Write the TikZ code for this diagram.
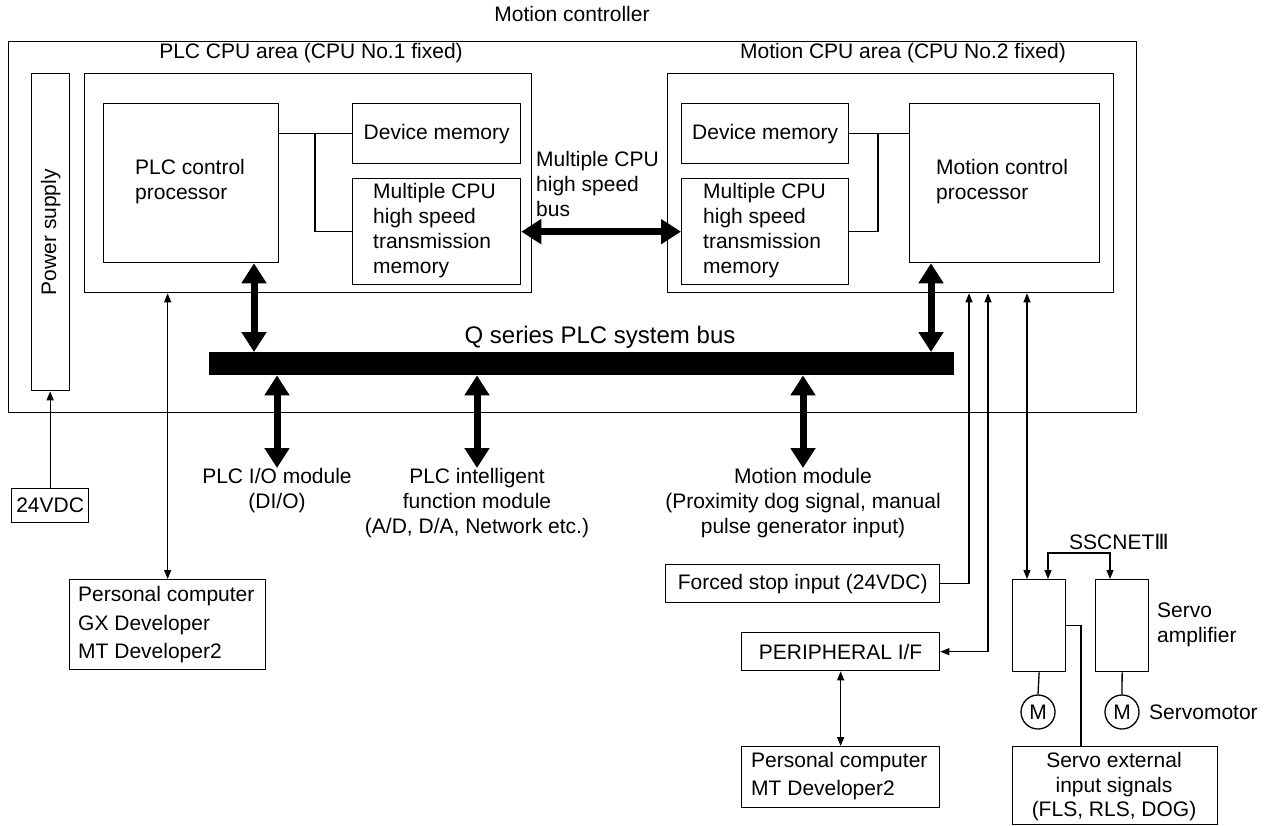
\documentclass[tikz,border=0pt]{standalone}
\usepackage{fontspec}
\setmainfont{Liberation Sans}
\newfontfamily\dejavu{DejaVu Sans}
\usetikzlibrary{arrows.meta}
\begin{document}
\begin{tikzpicture}[x=1pt,y=-1pt,
  font=\fontsize{21}{25}\selectfont,
  box/.style={draw, line width=1.3pt, inner sep=0pt},
  txt/.style={inner sep=0pt},
  thinln/.style={line width=1.3pt},
  thinarr/.style={line width=1.3pt, -{Triangle[length=9pt,width=7pt]}},
  thinboth/.style={line width=1.3pt, {Triangle[length=9pt,width=7pt]}-{Triangle[length=9pt,width=7pt]}},
  bigboth/.style={line width=7pt, {Triangle[length=20pt,width=24pt]}-{Triangle[length=20pt,width=24pt]}}]
\useasboundingbox (0,0) rectangle (1269,825);
\fill[white] (0,0) rectangle (1269,825);
% boxes: corners
\newcommand{\bx}[5]{\node[box, anchor=north west, minimum width=#4-#2, minimum height=#5-#3] (#1) at (#2,#3) {};}
\bx{outer}{8}{41}{1136}{412}
\bx{ps}{31}{73}{69}{390}
\bx{plcA}{84}{73}{531}{292}
\bx{plcP}{103}{103}{278}{262}
\bx{devL}{352}{103}{520}{163}
\bx{memL}{352}{178}{520}{284}
\bx{motA}{667}{73}{1113}{292}
\bx{devR}{681}{103}{848}{163}
\bx{memR}{681}{178}{848}{284}
\bx{motP}{909}{103}{1099}{262}
\node[fill=black, inner sep=0pt, anchor=north west, minimum width=745pt, minimum height=23pt] (bus) at (209,352) {};
\bx{dc}{11}{488}{88}{522}
\bx{pcL}{69}{579}{265}{669}
\bx{fs}{665}{564}{939}{602}
\bx{pif}{741}{632}{939}{670}
\bx{pcR}{741}{746}{939}{807}
\bx{ampA}{1012}{579}{1065}{671}
\bx{ampB}{1095}{579}{1148}{671}
\bx{ext}{1012}{746}{1217}{824}
\node[box, circle, minimum size=34pt] (mA) at (1038,712) {M};
\node[box, circle, minimum size=34pt] (mB) at (1122,712) {M};
% texts
\node[txt] (tmc) at (572,14) {Motion controller};
\node[txt] (tplcA) at (311,53) {PLC CPU area (CPU No.1 fixed)};
\node[txt] (tmotA) at (903,53) {Motion CPU area (CPU No.2 fixed)};
\node[txt, rotate=90] (tps) at (ps.center) {Power supply};
\node[txt, anchor=west, align=left] (tplcP) at (135,182) {PLC control\\processor};
\node[txt] (tdevL) at (devL.center) {Device memory};
\node[txt, anchor=west, align=left] (tmemL) at (373,231) {Multiple CPU\\high speed\\transmission\\memory};
\node[txt, anchor=west, align=left] (tbusl) at (536,184) {Multiple CPU\\high speed\\bus};
\node[txt, font=\fontsize{24}{28}\selectfont] (tqbus) at (600,337) {Q series PLC system bus};
\node[txt] (tdevR) at (devR.center) {Device memory};
\node[txt, anchor=west, align=left] (tmemR) at (703,231) {Multiple CPU\\high speed\\transmission\\memory};
\node[txt, anchor=west, align=left] (tmotP) at (936,182) {Motion control\\processor};
\node[txt, anchor=north, align=center] (tio) at (277,468) {PLC I/O module\\(DI/O)};
\node[txt, anchor=north, align=center] (tint) at (477,468) {PLC intelligent\\function module\\(A/D, D/A, Network etc.)};
\node[txt, anchor=north, align=center] (tmm) at (803,468) {Motion module\\(Proximity dog signal, manual\\pulse generator input)};
\node[txt] (tdc) at (dc.center) {24VDC};
\node[txt, anchor=west, align=left, font=\fontsize{21}{28.5}\selectfont] (tpcL) at (78,625) {Personal computer\\GX Developer\\MT Developer2};
\node[txt] (tfs) at (fs.center) {Forced stop input (24VDC)};
\node[txt] (tpif) at (pif.center) {PERIPHERAL I/F};
\node[txt, anchor=west, align=left, font=\fontsize{21}{28}\selectfont] (tpcR) at (751,776) {Personal computer\\MT Developer2};
\node[txt, anchor=west] (tssc) at (1069,542) {SSCNET{\dejavu Ⅲ}};
\node[txt, anchor=west, align=left] (tamp) at (1157,625) {Servo\\amplifier};
\node[txt, anchor=west] (tsm) at (1149,712) {Servomotor};
\node[txt, align=center, font=\fontsize{21}{24.5}\selectfont] (text) at (1114,787) {Servo external\\input signals\\(FLS, RLS, DOG)};
% internal connectors
\coordinate (jL) at (315,133);
\coordinate (jR) at (878,133);
\draw[thinln] (plcP.east |- devL.west) -- (devL.west);
\draw[thinln] (jL) |- (memL.west);
\draw[thinln] (devR.east) -- (motP.west |- devR.east);
\draw[thinln] (jR) |- (memR.east);
% thick arrows
\draw[bigboth] (memL.east) -- (memR.west);
\coordinate (xa) at (254,0);
\coordinate (xb) at (931,0);
\coordinate (xc) at (277,0);
\coordinate (xd) at (477,0);
\coordinate (xe) at (803,0);
\draw[bigboth] (plcP.south -| xa) -- (bus.north -| xa);
\draw[bigboth] (motP.south -| xb) -- (bus.north -| xb);
\draw[bigboth] (bus.south -| xc) -- (tio.north);
\draw[bigboth] (bus.south -| xd) -- (tint.north);
\draw[bigboth] (bus.south -| xe) -- (tmm.north);
% thin connectors
\draw[thinarr] (dc.north) -- (ps.south -| dc.north);
\draw[thinboth] (plcA.south -| pcL.north) -- (pcL.north);
\coordinate (xf) at (969,0);
\coordinate (xg) at (988,0);
\coordinate (xh) at (1027,0);
\draw[thinarr] (fs.east) -| (motA.south -| xf);
\draw[thinboth] (pif.east) -| (motA.south -| xg);
\draw[thinboth] (motA.south -| xh) -- (ampA.north -| xh);
\coordinate (s1) at (1048,553);
\coordinate (s2) at (1110,553);
\draw[thinboth] (ampA.north -| s1) -- (s1) -- (s2) -- (ampB.north -| s2);
\draw[thinboth] (pif.south) -- (pcR.north);
\draw[thinln] (ampA.south) -- (mA.north);
\draw[thinln] (ampB.south) -- (mB.north);
\coordinate (xi) at (1081,0);
\draw[thinln] (ampA.east) -| (ext.north -| xi);
\end{tikzpicture}
\end{document}
